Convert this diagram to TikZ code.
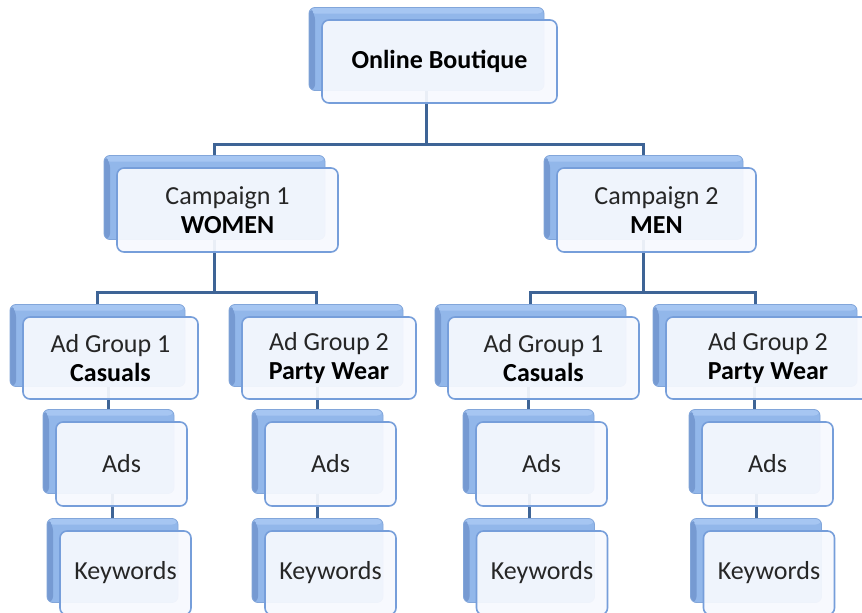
\documentclass[tikz,border=0pt]{standalone}
\usepackage{fontspec}
\setmainfont{Carlito}
\usetikzlibrary{backgrounds}
\pgfdeclarelayer{bottom}
\pgfsetlayers{bottom,background,main}
\definecolor{connc}{RGB}{62,100,150}
\definecolor{backfill}{RGB}{146,183,234}
\definecolor{backdark}{RGB}{118,154,210}
\definecolor{backlight}{RGB}{166,198,242}
\definecolor{backedge}{RGB}{130,166,218}
\definecolor{frontedge}{RGB}{118,158,218}
\definecolor{frontfill}{RGB}{247,249,254}
\definecolor{textc}{RGB}{38,38,38}
\tikzset{
  backbox/.style={draw=backedge, line width=0.8pt, fill=backfill, rounded corners=6pt, inner sep=0pt,
    path picture={
      \fill[backlight] (path picture bounding box.north west) rectangle ([yshift=-6pt]path picture bounding box.north east);
      \fill[backdark] (path picture bounding box.north west) -- ([xshift=6pt,yshift=-6pt]path picture bounding box.north west) -- ([xshift=6pt]path picture bounding box.south west) -- (path picture bounding box.south west) -- cycle;
    }},
  frontbox/.style={draw=frontedge, line width=1.6pt, fill=frontfill, fill opacity=0.93, text opacity=1,
    rounded corners=7pt, align=center, inner sep=0pt, text=textc,
    font=\fontsize{26}{29}\selectfont},
  conn/.style={draw=connc, line width=3pt},
}
\newcommand\mkbox[6]{%
  \node[backbox, minimum width=#4pt, minimum height=#5pt] (#1b) at (#2-13,#3-12.5) {};
  \node[frontbox, minimum width=#4pt, minimum height=#5pt] (#1) at (#2,#3) {#6};}
\begin{document}
\begin{tikzpicture}[x=1pt,y=-1pt]
\begin{pgfonlayer}{bottom}
\fill[white] (0,0) rectangle (862,613);
\end{pgfonlayer}
\useasboundingbox (0,0) rectangle (862,613);
% level 0
\mkbox{root}{439.5}{61.5}{235}{83}{\textbf{\color{black}Online Boutique}}
% level 1
\mkbox{cA}{227.5}{210}{221}{84}{Campaign 1\\\textbf{\color{black}WOMEN}}
\mkbox{cB}{656.5}{210}{199}{84}{Campaign 2\\\textbf{\color{black}MEN}}
% level 2
\mkbox{gA}{110.5}{358}{175}{82}{Ad Group 1\\\textbf{\color{black}Casuals}}
\mkbox{gB}{329}{358}{174}{82}{Ad Group 2\\\textbf{\color{black}Party Wear}}
\mkbox{gC}{543.5}{358}{191}{82}{Ad Group 1\\\textbf{\color{black}Casuals}}
\mkbox{gD}{768}{358}{204}{82}{Ad Group 2\\\textbf{\color{black}Party Wear}}
% ads
\mkbox{aA}{121.5}{464}{131}{84}{Ads}
\mkbox{aB}{330.5}{464}{131}{84}{Ads}
\mkbox{aC}{541.5}{464}{131}{84}{Ads}
\mkbox{aD}{767.5}{464}{131}{84}{Ads}
% keywords
\mkbox{kA}{125.5}{573}{131}{84}{Keywords}
\mkbox{kB}{330.5}{573}{131}{84}{Keywords}
\mkbox{kC}{542}{573}{131}{84}{Keywords}
\mkbox{kD}{769}{573}{131}{84}{Keywords}
% connectors
\begin{scope}[on background layer]
  \draw[conn] (rootb.center) -- (rootb.center |- 0,144) coordinate (j0) -| (cAb.north);
  \draw[conn] (j0) -| (cBb.north);
  \draw[conn] (cAb.center) -- (cAb.center |- 0,292) coordinate (j1) -| (gAb.north);
  \draw[conn] (j1) -| (gBb.north);
  \draw[conn] (cBb.center) -- (cBb.center |- 0,292) coordinate (j2) -| (gCb.north);
  \draw[conn] (j2) -| (gDb.north);
  \draw[conn] (aAb.north |- gAb.south) -- (aAb.north);
  \draw[conn] (aBb.north |- gBb.south) -- (aBb.north);
  \draw[conn] (aCb.north |- gCb.south) -- (aCb.north);
  \draw[conn] (aDb.north |- gDb.south) -- (aDb.north);
  \draw[conn] (kAb.north |- aAb.south) -- (kAb.north);
  \draw[conn] (kBb.north |- aBb.south) -- (kBb.north);
  \draw[conn] (kCb.north |- aCb.south) -- (kCb.north);
  \draw[conn] (kDb.north |- aDb.south) -- (kDb.north);
\end{scope}
\end{tikzpicture}
\end{document}
